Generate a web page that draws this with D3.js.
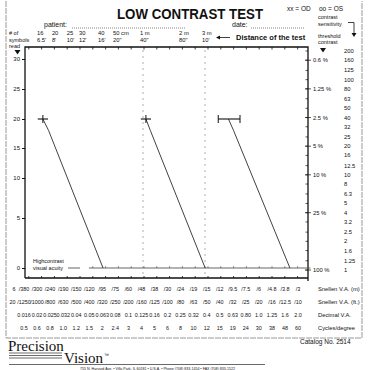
<!DOCTYPE html>
<html><head><meta charset="utf-8">
<script src="https://cdn.jsdelivr.net/npm/d3@7"></script>
<style>
html,body{margin:0;padding:0;background:#fff;}
svg{display:block;font-family:"Liberation Sans",Arial,sans-serif;}
</style></head>
<body><svg id="c" width="369" height="370"></svg>
<script>
// ---- data ----
const symbolTicks = [0, 5, 10, 15, 20, 25, 30];
const sensitivityTicks = [200,160,125,100,80,63,50,40,32,25,20,16,12.5,10,8,6.3,5,4,3.2,2.5,2,1.6,1.25,1];
const thresholdSens = [160, 80, 40, 20, 10, 4, 1];
const thresholdLabels = ["0.6 %", "1.25 %", "2.5 %", "5 %", "10 %", "25 %", "100 %"];
const distancesCm = [16, 20, 25, 30, 40, 50, 100, 200, 300];
const distMetric = ["16", "20", "25", "30", "40", "50 cm", "1 m", "2 m", "3 m"];
const distImperial = ["6.5'", "8'", "10'", "12'", "16'", "20\"", "40\"", "80\"", "10'"];
const dashedDistCm = [100, 300];
const snellenM = ["/380","/300","/240","/190","/150","/120","/95","/75","/60","/48","/38","/30","/24","/19","/15","/12","/9.5","/7.5","/6","/4.8","/3.8","/3"];
const snellenFt = ["/1250","/1000","/800","/630","/500","/400","/320","/250","/200","/160","/125","/100","/80","/63","/50","/40","/32","/25","/20","/16","/12.5","/10"];
const decimalVA = ["0.016","0.02","0.025","0.032","0.04","0.05","0.063","0.08","0.1","0.125","0.16","0.2","0.25","0.32","0.4","0.5","0.63","0.80","1.0","1.25","1.6","2.0"];
const cyclesDeg = ["0.5","0.6","0.8","1.0","1.2","1.5","2","2.4","3","4","5","6","8","10","12","15","19","24","30","38","48","60"];
const rowNames = ["Snellen V.A. (m)", "Snellen V.A. (ft.)", "Decimal V.A.", "Cycles/degree"];
const rowPrefix = ["6", "20", "", ""];
// test results: acuity column and symbols read for each plotted line
const resultCols = [[1.1, 1.55, 5.8], [9.15, 9.5, 13.78], [15.6, 16.0, 20.4]];
const resultSymbols = [20, 18, 0];
const markerSpans = [[0.7, 1.5], [8.75, 9.55], [14.8, 16.5]];
const markerCaps = [[1.1], [9.15], [14.8, 16.5]];
const highContrastCols = [4.7, 22];

// ---- layout ----
const svg = d3.select("#c");
const L = 25, T = 47, R = 308, B = 278;
const ink = "#111";

const yLeft = d3.scaleLinear().domain([0,5,10,15,20,25,30]).range([268,218,178,148,119,89,59]);
const yRight = d3.scaleLog().domain([1,200]).range([270,51]);
const xCol = d3.scaleLinear().domain([0,21]).range([28.8,297.6]);
const xTable = d3.scaleLinear().domain([0,21]).range([24,298]);
const xDist = d3.scaleLog().domain([16,50,100,300]).range([40,116,143,205]);

// outer frame
svg.append("path").attr("d",`M6,1 V338 H362 V1`).attr("fill","none").attr("stroke","#999").attr("stroke-width",1)
  .attr("stroke-dasharray","6,1");

// title
svg.append("text").attr("x",190).attr("y",18.5).attr("text-anchor","middle")
  .attr("font-size",14.5).attr("font-weight","bold").attr("fill",ink)
  .attr("textLength",146).attr("lengthAdjust","spacingAndGlyphs").text("LOW CONTRAST TEST");
svg.append("text").attr("x",287).attr("y",11).attr("font-size",6.5).attr("fill",ink).text("xx = OD");
svg.append("text").attr("x",319).attr("y",11).attr("font-size",6.5).attr("fill",ink).text("oo = OS");
svg.append("text").attr("x",44).attr("y",27).attr("font-size",7).attr("fill",ink).text("patient:");
svg.append("line").attr("x1",72).attr("x2",186).attr("y1",28).attr("y2",28).attr("stroke","#888").attr("stroke-dasharray","1,1");
svg.append("text").attr("x",232).attr("y",27).attr("font-size",7).attr("fill",ink).text("date:");
svg.append("line").attr("x1",251).attr("x2",305).attr("y1",28).attr("y2",28).attr("stroke","#888").attr("stroke-dasharray","1,1");

// right header
svg.append("text").attr("x",318).attr("y",19).attr("font-size",5.5).attr("fill",ink).text("contrast");
svg.append("text").attr("x",318).attr("y",25.5).attr("font-size",5.5).attr("fill",ink).text("sensitivity");
svg.append("path").attr("d","M348,22.5 H354 V34").attr("fill","none").attr("stroke",ink).attr("stroke-width",0.8);
svg.append("path").attr("d","M351.5,33 L356.5,33 L354,37 Z").attr("fill",ink);
svg.append("text").attr("x",318).attr("y",37.5).attr("font-size",5.5).attr("fill",ink).text("threshold");
svg.append("text").attr("x",318).attr("y",44).attr("font-size",5.5).attr("fill",ink).text("contrast");
svg.append("path").attr("d","M320,48 L326,48 L323,52.5 Z").attr("fill",ink);

// left header
svg.append("text").attr("x",9).attr("y",35).attr("font-size",5.5).attr("fill",ink).text("# of");
svg.append("text").attr("x",9).attr("y",41.5).attr("font-size",5.5).attr("fill",ink).text("symbols");
svg.append("text").attr("x",9).attr("y",48).attr("font-size",5.5).attr("fill",ink).text("read");
svg.append("path").attr("d","M14.5,50 L20.5,50 L17.5,54.5 Z").attr("fill",ink);

// distance labels
const dg = svg.append("g");
distancesCm.forEach((d,i)=>{
  dg.append("text").attr("x",xDist(d)-3).attr("y",35).attr("font-size",5.8).attr("fill",ink).text(distMetric[i]);
  dg.append("text").attr("x",xDist(d)-3).attr("y",42).attr("font-size",5.8).attr("fill",ink).text(distImperial[i]);
});
svg.append("line").attr("x1",218).attr("x2",230).attr("y1",37.5).attr("y2",37.5).attr("stroke",ink).attr("stroke-width",0.8);
svg.append("path").attr("d","M216,37.5 L220,35.5 L220,39.5 Z").attr("fill",ink);
svg.append("text").attr("x",236).attr("y",40).attr("font-size",7.5).attr("font-weight","bold").attr("fill",ink).text("Distance of the test");

// dashed verticals
dashedDistCm.forEach(d=>{
  svg.append("line").attr("x1",xDist(d)).attr("x2",xDist(d)).attr("y1",T+3).attr("y2",B)
    .attr("stroke","#999").attr("stroke-width",0.8).attr("stroke-dasharray","2,4");
});

// plot frame
svg.append("path").attr("d",`M${L},${B} V${T} H${R} V${B+3}`).attr("fill","none").attr("stroke",ink).attr("stroke-width",1.3);
svg.append("line").attr("x1",L).attr("x2",R).attr("y1",B).attr("y2",B).attr("stroke",ink).attr("stroke-width",1.3);

// top ticks
svg.append("g").selectAll("line").data(d3.range(0,22)).join("line")
  .attr("x1",d=>xCol(d)).attr("x2",d=>xCol(d)).attr("y1",T).attr("y2",T+2.5).attr("stroke",ink).attr("stroke-width",0.8);
// bottom ticks
svg.append("g").selectAll("line").data(d3.range(0,22)).join("line")
  .attr("x1",d=>xCol(d)).attr("x2",d=>xCol(d)).attr("y1",B).attr("y2",B-2).attr("stroke",ink).attr("stroke-width",0.8);

// left axis
const la = d3.axisLeft(yLeft).tickValues(symbolTicks).tickSize(3).tickPadding(2);
const lag = svg.append("g").attr("transform",`translate(${L},0)`).call(la);
lag.select(".domain").remove();
lag.selectAll("text").attr("font-size",6).attr("font-family","Liberation Sans, Arial").attr("fill",ink);
lag.selectAll("line").attr("stroke",ink);

// right axis
const rg = svg.append("g").attr("transform",`translate(${R},0)`);
rg.selectAll("line.minor").data(sensitivityTicks).join("line").attr("class","minor")
  .attr("x1",-2.5).attr("x2",0).attr("y1",d=>yRight(d)).attr("y2",d=>yRight(d)).attr("stroke",ink).attr("stroke-width",0.7);
rg.selectAll("line.major").data(thresholdSens).join("line").attr("class","major")
  .attr("x1",-3).attr("x2",3).attr("y1",d=>yRight(d)).attr("y2",d=>yRight(d)).attr("stroke",ink).attr("stroke-width",0.7);
rg.selectAll("text.sens").data(sensitivityTicks).join("text").attr("class","sens")
  .attr("x",36).attr("y",d=>yRight(d)+2).attr("font-size",5.8).attr("fill",ink).text(d=>d);
rg.selectAll("text.thr").data(thresholdSens).join("text").attr("class","thr")
  .attr("x",5).attr("y",d=>yRight(d)+2).attr("font-size",5.8).attr("fill",ink).text((d,i)=>thresholdLabels[i]);

// high contrast acuity line
const yHC = yLeft(0);
svg.append("line").attr("x1",xCol(highContrastCols[0])).attr("x2",xCol(highContrastCols[1])).attr("y1",yHC).attr("y2",yHC)
  .attr("stroke","#555").attr("stroke-width",0.9);
svg.append("g").selectAll("line").data(d3.range(5,22)).join("line")
  .attr("x1",d=>xCol(d)).attr("x2",d=>xCol(d)).attr("y1",yHC).attr("y2",yHC-1.8).attr("stroke","#555").attr("stroke-width",0.7);
svg.append("line").attr("x1",68).attr("x2",80).attr("y1",yHC).attr("y2",yHC).attr("stroke","#555").attr("stroke-width",0.9);
svg.append("text").attr("x",33).attr("y",263).attr("font-size",5.5).attr("fill",ink).text("Highcontrast");
svg.append("text").attr("x",33).attr("y",270).attr("font-size",5.5).attr("fill",ink).text("visual acuity");

// result lines
const line = d3.line().x(d=>xCol(d[0])).y(d=>yLeft(d[1]));
resultCols.forEach(cols=>{
  svg.append("path").attr("d",line(cols.map((c,i)=>[c,resultSymbols[i]])))
    .attr("fill","none").attr("stroke",ink).attr("stroke-width",0.8);
});
markerSpans.forEach((s,i)=>{
  const y = yLeft(resultSymbols[0]);
  svg.append("line").attr("x1",xCol(s[0])).attr("x2",xCol(s[1])).attr("y1",y).attr("y2",y).attr("stroke",ink).attr("stroke-width",1.1);
  markerCaps[i].forEach(c=>{
    svg.append("line").attr("x1",xCol(c)).attr("x2",xCol(c)).attr("y1",y-4).attr("y2",y+4).attr("stroke",ink).attr("stroke-width",1);
  });
});

// acuity table
const rows = [snellenM, snellenFt, decimalVA, cyclesDeg];
const rowY = [291, 304, 317, 330];
rows.forEach((r,ri)=>{
  const g = svg.append("g");
  g.selectAll("text").data(r).join("text").attr("x",(d,i)=>xTable(i)).attr("y",rowY[ri])
    .attr("text-anchor","middle").attr("font-size",5.4).attr("fill",ink).text(d=>d);
  if (rowPrefix[ri]) g.append("text").attr("x",xTable(0)-8.5).attr("y",rowY[ri]).attr("text-anchor","end")
    .attr("font-size",5.4).attr("fill",ink).text(rowPrefix[ri]);
  g.append("text").attr("x",318).attr("y",rowY[ri]).attr("font-size",5.8).attr("fill",ink).text(rowNames[ri]);
});

// footer
svg.append("text").attr("x",8).attr("y",351).attr("font-family","Liberation Serif, serif").attr("font-size",15).attr("fill",ink).text("Precision");
svg.append("text").attr("x",64).attr("y",363).attr("font-family","Liberation Serif, serif").attr("font-size",15).attr("fill",ink).text("Vision");
svg.append("text").attr("x",104).attr("y",357).attr("font-size",5).attr("fill",ink).text("™");
[353,355.5,358].forEach(y=>svg.append("line").attr("x1",9).attr("x2",62).attr("y1",y).attr("y2",y).attr("stroke","#444").attr("stroke-width",0.8));
svg.append("line").attr("x1",9).attr("x2",265).attr("y1",364.5).attr("y2",364.5).attr("stroke","#444").attr("stroke-width",0.8);
svg.append("text").attr("x",80).attr("y",369.5).attr("font-size",3.6).attr("fill",ink)
  .text("755 N. Harvard Ave. • Villa Park, IL 60181 • U.S.A. • Phone (708) 833-1454 • FAX (708) 833-1522");
svg.append("text").attr("x",300).attr("y",344).attr("font-size",6.5).attr("fill",ink).text("Catalog No. 2514");
</script></body></html>
